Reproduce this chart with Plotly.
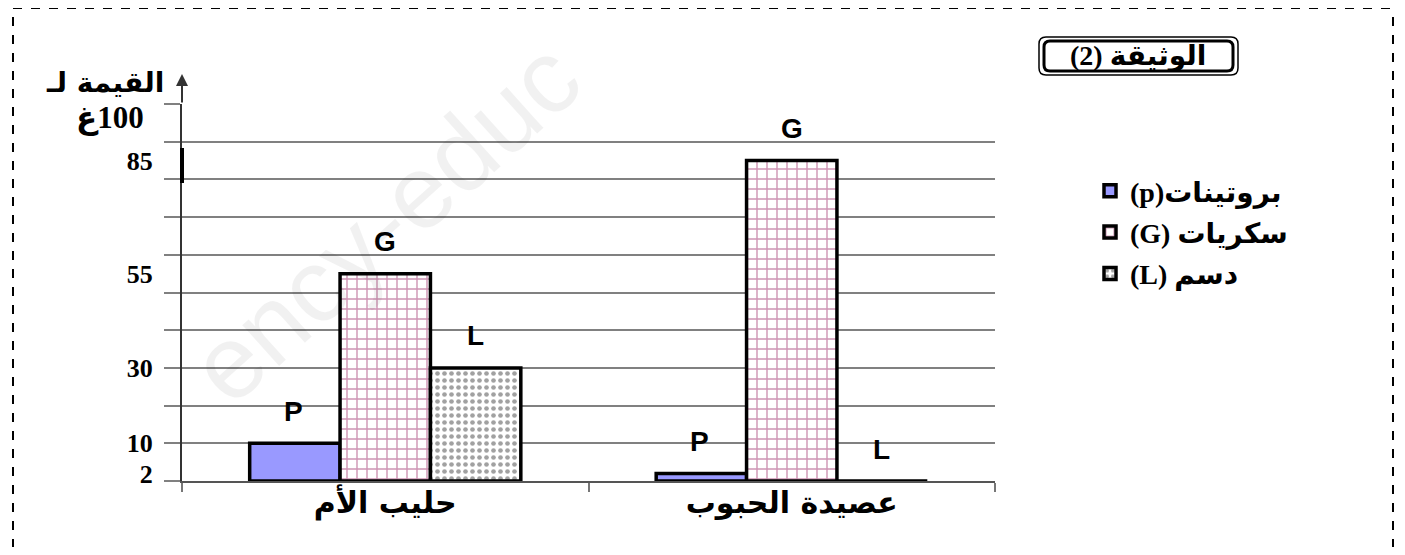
import plotly.graph_objects as go

categories = ["حليب الأم", "عصيدة الحبوب"]
series_names = ["(p)بروتينات", "(G) سكريات", "(L) دسم"]
bar_letters = ["P", "G", "L"]
proteins = [10, 2]
sugars = [55, 85]
lipids = [30, 0]
y_tick_vals = [2, 10, 30, 55, 85]
y_tick_text = ["2", "10", "30", "55", "85"]

series_values = [proteins, sugars, lipids]
colors = ["#9999ff", "white", "white"]
patterns = [
    dict(shape=""),
    dict(shape="+", fgcolor="#9c2866", size=10, solidity=0.26),
    dict(shape=".", fgcolor="#444444", size=7, solidity=0.35),
]

fig = go.Figure()
for i, (name, vals) in enumerate(zip(series_names, series_values)):
    fig.add_trace(go.Bar(
        x=categories, y=vals, name=name,
        marker=dict(color=colors[i], line=dict(color="black", width=3.5), pattern=patterns[i]),
        legendgroup=f"g{i}",
    ))

# letters above bars
offsets = [-92, 0, 90]
for i, vals in enumerate(series_values):
    for c, v in zip(categories, vals):
        fig.add_annotation(x=c, y=v, text=f"<b>{bar_letters[i]}</b>", showarrow=False,
                           xanchor="center", yanchor="middle",
                           xshift=offsets[i], yshift=32,
                           font=dict(family="Liberation Sans", size=28, color="black"))

OFF = 8  # page body margin
W, H = 1405 - 2 * OFF, 555 - 2 * OFF
L, R, T, B = 182, 995, 104, 481   # plot area in reference pixels
def px(x):
    return (x - L) / (R - L)
def py(y):
    return (B - y) / (B - T)

fig.update_layout(
    width=W, height=H,
    margin=dict(l=L - OFF, r=W - (R - OFF), t=T - OFF, b=H - (B - OFF)),
    paper_bgcolor="white", plot_bgcolor="white",
    barmode="group", bargap=0.333, bargroupgap=0,
    showlegend=True,
    legend=dict(x=px(1090), y=py(166), xanchor="left", yanchor="top",
                font=dict(family="Liberation Serif, DejaVu Sans", size=28, color="black", weight="bold"),
                tracegroupgap=2, itemwidth=30, bgcolor="rgba(0,0,0,0)"),
    xaxis=dict(range=[-0.5, 1.5], showline=True, linecolor="#555", linewidth=2,
               ticks="outside", tickson="boundaries", ticklen=9, tickcolor="#777", tickwidth=2,
               showgrid=False, ticklabelstandoff=-6,
               tickfont=dict(family="DejaVu Sans", size=30, color="black", weight="bold")),
    yaxis=dict(range=[0, 100], showline=True, linecolor="#333", linewidth=2,
               tickvals=y_tick_vals, ticktext=y_tick_text, ticks="", showgrid=False,
               ticklabelstandoff=22,
               tickfont=dict(family="Liberation Serif", size=26, color="black", weight="bold"),
               minor=dict(dtick=10, showgrid=True, gridcolor="#808080", gridwidth=2,
                          ticks="outside", ticklen=16, tickcolor="#808080", tickwidth=2),
               zeroline=False),
)

# axis arrow
fig.add_annotation(xref="paper", yref="paper", x=0, y=py(74), ax=0, ay=30,
                   axref="pixel", ayref="pixel", showarrow=True, arrowhead=2,
                   arrowsize=1.2, arrowwidth=2, arrowcolor="#333", text="")
# thick segment on y axis
fig.add_shape(type="line", xref="paper", yref="paper", x0=0, x1=0, y0=py(183), y1=py(148),
              line=dict(color="black", width=4))

# y-axis title
fig.add_annotation(xref="paper", yref="paper", x=px(166), y=py(82), xanchor="right", yanchor="middle",
                   text="<b>القيمة لـ</b>", showarrow=False,
                   font=dict(family="DejaVu Sans", size=28, color="black"))
fig.add_annotation(xref="paper", yref="paper", x=px(146), y=py(118), xanchor="right", yanchor="middle",
                   text="<b>\u202b100غ\u202c</b>", showarrow=False,
                   font=dict(family="Liberation Serif, DejaVu Sans", size=31, color="black"))

# document title box (double rounded border)
def rounded(x0, y0, x1, y1, r):
    X = lambda v: px(v)
    Y = lambda v: py(v)
    return (f"M {X(x0+r)} {Y(y0)} L {X(x1-r)} {Y(y0)} Q {X(x1)} {Y(y0)} {X(x1)} {Y(y0+r)} "
            f"L {X(x1)} {Y(y1-r)} Q {X(x1)} {Y(y1)} {X(x1-r)} {Y(y1)} "
            f"L {X(x0+r)} {Y(y1)} Q {X(x0)} {Y(y1)} {X(x0)} {Y(y1-r)} "
            f"L {X(x0)} {Y(y0+r)} Q {X(x0)} {Y(y0)} {X(x0+r)} {Y(y0)} Z")
fig.add_shape(type="path", xref="paper", yref="paper", path=rounded(1039, 37, 1238, 75, 7),
              line=dict(color="black", width=1.5))
fig.add_shape(type="path", xref="paper", yref="paper", path=rounded(1044, 41, 1233, 71, 6),
              line=dict(color="black", width=3))
fig.add_annotation(xref="paper", yref="paper", x=px(1138), y=py(56), xanchor="center", yanchor="middle",
                   text="<b>(2) الوثيقة</b>", showarrow=False,
                   font=dict(family="Liberation Serif, DejaVu Sans", size=28, color="black"))

# dashed frame
dash = dict(color="black", width=2, dash="dash")
fig.add_shape(type="line", xref="paper", yref="paper", x0=px(13), x1=px(13), y0=py(548), y1=py(8), line=dash)
fig.add_shape(type="line", xref="paper", yref="paper", x0=px(1393), x1=px(1393), y0=py(548), y1=py(8), line=dash)
fig.add_shape(type="line", xref="paper", yref="paper", x0=px(13), x1=px(1393), y0=py(8), y1=py(8), line=dash)

# watermark
fig.add_annotation(xref="paper", yref="paper", x=px(385), y=py(222), text="ency-educ",
                   xanchor="center", yanchor="middle",
                   showarrow=False, textangle=-42,
                   font=dict(family="Liberation Sans", size=104, color="rgba(0,0,0,0.055)"))

fig.write_html("out.html")
